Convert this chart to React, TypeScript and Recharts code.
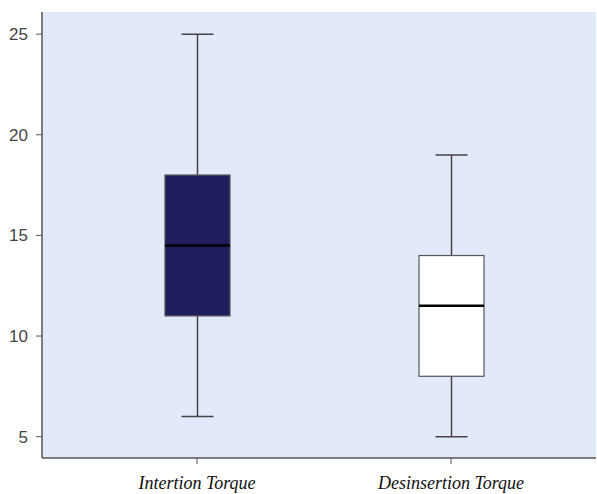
import { ComposedChart, Bar, XAxis, YAxis, CartesianGrid } from 'recharts';

// torque box plot: whisker min/max, box Q1..Q3, median line
const categories = ['Intertion Torque', 'Desinsertion Torque'];
const mins = [6, 5];
const q1s = [11, 8];
const medians = [14.5, 11.5];
const q3s = [18, 14];
const maxs = [25, 19];
const boxFills = ['#201d5c', '#ffffff'];
const yTicks = [5, 10, 15, 20, 25];

const data = categories.map((name, i) => ({
  name,
  min: mins[i],
  q1: q1s[i],
  median: medians[i],
  q3: q3s[i],
  max: maxs[i],
  fill: boxFills[i],
}));

function BoxShape(props: any) {
  const { x, y, width, height, payload } = props;
  const top = Math.min(y, y + height);
  const h = Math.abs(height);
  const span = payload.max - payload.min;
  const perUnit = span > 0 ? h / span : 0;
  const toY = (v: number) => top + (payload.max - v) * perUnit;
  const cx = x + width / 2;
  const capHalf = 16;
  const yQ3 = toY(payload.q3);
  const yQ1 = toY(payload.q1);
  const yMed = toY(payload.median);
  return (
    <g>
      <line x1={cx} x2={cx} y1={toY(payload.max)} y2={yQ3} stroke="#444" strokeWidth={1.5} />
      <line x1={cx} x2={cx} y1={yQ1} y2={toY(payload.min)} stroke="#444" strokeWidth={1.5} />
      <line x1={cx - capHalf} x2={cx + capHalf} y1={toY(payload.max)} y2={toY(payload.max)} stroke="#444" strokeWidth={1.5} />
      <line x1={cx - capHalf} x2={cx + capHalf} y1={toY(payload.min)} y2={toY(payload.min)} stroke="#444" strokeWidth={1.5} />
      <rect x={x} y={yQ3} width={width} height={yQ1 - yQ3} fill={payload.fill} stroke="#555" strokeWidth={1.2} />
      <line x1={x} x2={x + width} y1={yMed} y2={yMed} stroke="#000" strokeWidth={2.5} />
    </g>
  );
}

export default function App() {
  return (
    <div style={{ position: 'absolute', left: 0, top: 0, background: '#fff' }}>
      <ComposedChart
        width={597}
        height={494}
        data={data}
        margin={{ top: 12, right: 1, bottom: 0, left: 0 }}
      >
        <CartesianGrid fill="#e2e9f9" horizontal={false} vertical={false} />
        <XAxis
          xAxisId="top"
          orientation="top"
          dataKey="name"
          height={0}
          tick={false}
          tickLine={false}
          axisLine={{ stroke: '#777', strokeWidth: 1.5 }}
          padding={{ left: 28, right: 18 }}
        />
        <XAxis
          dataKey="name"
          height={36}
          padding={{ left: 28, right: 18 }}
          axisLine={{ stroke: '#555', strokeWidth: 1.5 }}
          tickLine={{ stroke: '#555' }}
          tickSize={6}
          tickMargin={12}
          tick={{ fill: '#111', fontSize: 18, fontFamily: 'Liberation Serif', fontStyle: 'italic' }}
        />
        <YAxis
          type="number"
          domain={[3.94, 26.1]}
          ticks={yTicks}
          allowDataOverflow
          width={42}
          axisLine={{ stroke: '#555', strokeWidth: 1.5 }}
          tickLine={{ stroke: '#555' }}
          tickSize={6}
          tickMargin={8}
          tick={{ fill: '#444', fontSize: 17, fontFamily: 'Liberation Sans' }}
        />
        <Bar
          dataKey={(d: any) => [d.min, d.max]}
          barSize={65}
          shape={BoxShape}
          isAnimationActive={false}
        />
      </ComposedChart>
    </div>
  );
}
